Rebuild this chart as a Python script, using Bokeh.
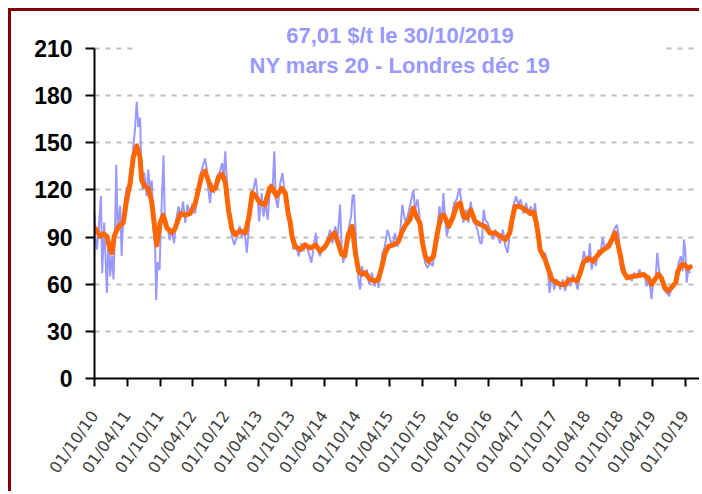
import pandas as pd
from bokeh.plotting import figure
from bokeh.models import FixedTicker, DatetimeTickFormatter, Label, Range1d
from bokeh.embed import file_html
from bokeh.resources import INLINE

# ---- data ----
title_lines = ["67,01 $/t le 30/10/2019", "NY mars 20 - Londres déc 19"]

tick_dates = ["2010-10-01", "2011-04-01", "2011-10-01", "2012-04-01", "2012-10-01",
              "2013-04-01", "2013-10-01", "2014-04-01", "2014-10-01", "2015-04-01",
              "2015-10-01", "2016-04-01", "2016-10-01", "2017-04-01", "2017-10-01",
              "2018-04-01", "2018-10-01", "2019-04-01", "2019-10-01"]
y_ticks = [0, 30, 60, 90, 120, 150, 180, 210]

blue_dates = [
    "2010-10-01", "2010-10-05", "2010-10-14", "2010-10-23", "2010-11-06", "2010-11-13",
    "2010-11-24", "2010-12-09", "2010-12-18", "2010-12-27", "2011-01-06", "2011-01-15",
    "2011-01-24", "2011-01-30", "2011-02-07", "2011-02-21", "2011-03-01", "2011-03-10",
    "2011-03-19", "2011-03-29", "2011-04-07", "2011-04-17", "2011-04-26", "2011-05-05",
    "2011-05-14", "2011-05-24", "2011-06-02", "2011-06-12", "2011-06-17", "2011-06-26",
    "2011-07-05", "2011-07-18", "2011-07-27", "2011-08-06", "2011-08-16", "2011-08-25",
    "2011-09-04", "2011-09-09", "2011-09-17", "2011-09-28", "2011-10-05", "2011-10-20",
    "2011-10-27", "2011-11-08", "2011-11-23", "2011-12-05", "2011-12-18", "2011-12-29",
    "2012-01-12", "2012-01-25", "2012-02-06", "2012-02-18", "2012-03-01", "2012-03-16",
    "2012-03-30", "2012-04-13", "2012-04-26", "2012-05-10", "2012-05-25", "2012-06-08",
    "2012-06-17", "2012-06-26", "2012-07-05", "2012-07-15", "2012-07-27", "2012-08-12",
    "2012-08-27", "2012-09-10", "2012-09-19", "2012-09-28", "2012-10-07", "2012-10-16",
    "2012-10-25", "2012-11-04", "2012-11-17", "2012-12-02", "2012-12-17", "2012-12-29",
    "2013-01-12", "2013-01-26", "2013-02-14", "2013-03-03", "2013-03-16", "2013-03-27",
    "2013-04-04", "2013-04-19", "2013-04-28", "2013-05-11", "2013-05-22", "2013-06-05",
    "2013-06-17", "2013-06-28", "2013-07-06", "2013-07-17", "2013-07-30", "2013-08-12",
    "2013-08-23", "2013-09-06", "2013-09-19", "2013-09-30", "2013-10-13", "2013-10-25",
    "2013-11-10", "2013-11-25", "2013-12-07", "2013-12-20", "2014-01-05", "2014-01-20",
    "2014-02-02", "2014-02-14", "2014-02-24", "2014-03-09", "2014-03-22", "2014-04-06",
    "2014-04-21", "2014-05-04", "2014-05-17", "2014-06-01", "2014-06-16", "2014-06-29",
    "2014-07-08", "2014-07-17", "2014-07-30", "2014-08-14", "2014-08-29", "2014-09-06",
    "2014-09-14", "2014-09-21", "2014-09-30", "2014-10-09", "2014-10-18", "2014-10-27",
    "2014-11-12", "2014-11-25", "2014-12-08", "2014-12-23", "2015-01-07", "2015-01-20",
    "2015-01-29", "2015-02-09", "2015-02-20", "2015-03-05", "2015-03-20", "2015-04-03",
    "2015-04-16", "2015-04-30", "2015-05-15", "2015-05-28", "2015-06-10", "2015-06-21",
    "2015-06-30", "2015-07-13", "2015-07-26", "2015-08-11", "2015-08-20", "2015-09-03",
    "2015-09-14", "2015-09-21", "2015-10-02", "2015-10-15", "2015-10-28", "2015-11-12",
    "2015-11-27", "2015-12-10", "2015-12-22", "2016-01-03", "2016-01-16", "2016-01-25",
    "2016-02-04", "2016-02-13", "2016-02-27", "2016-03-11", "2016-03-24", "2016-04-08",
    "2016-04-23", "2016-05-02", "2016-05-15", "2016-05-30", "2016-06-12", "2016-06-25",
    "2016-07-06", "2016-07-19", "2016-08-01", "2016-08-17", "2016-08-26", "2016-09-05",
    "2016-09-14", "2016-09-27", "2016-10-11", "2016-10-26", "2016-11-09", "2016-11-21",
    "2016-12-06", "2016-12-21", "2017-01-04", "2017-01-16", "2017-01-27", "2017-02-10",
    "2017-02-21", "2017-03-04", "2017-03-17", "2017-03-30", "2017-04-14", "2017-04-29",
    "2017-05-12", "2017-05-25", "2017-06-05", "2017-06-18", "2017-06-27", "2017-07-06",
    "2017-07-15", "2017-07-30", "2017-08-13", "2017-08-26", "2017-09-07", "2017-09-20",
    "2017-10-02", "2017-10-17", "2017-11-01", "2017-11-05", "2017-11-20", "2017-12-02",
    "2017-12-15", "2017-12-30", "2018-01-14", "2018-01-27", "2018-02-10", "2018-02-21",
    "2018-03-04", "2018-03-17", "2018-03-28", "2018-04-10", "2018-04-19", "2018-04-29",
    "2018-05-11", "2018-05-22", "2018-06-05", "2018-06-18", "2018-06-29", "2018-07-12",
    "2018-07-24", "2018-08-09", "2018-08-24", "2018-09-06", "2018-09-16", "2018-09-27",
    "2018-10-04", "2018-10-13", "2018-10-26", "2018-11-11", "2018-11-25", "2018-12-08",
    "2018-12-21", "2019-01-05", "2019-01-20", "2019-02-03", "2019-02-15", "2019-03-01",
    "2019-03-15", "2019-03-28", "2019-04-07", "2019-04-21", "2019-04-29", "2019-05-10",
    "2019-05-23", "2019-06-05", "2019-06-20", "2019-07-05", "2019-07-17", "2019-07-30",
    "2019-08-15", "2019-08-26", "2019-09-07", "2019-09-18", "2019-09-25", "2019-10-02",
    "2019-10-10", "2019-10-19", "2019-10-30"]
blue_values = [
    105, 90, 82, 93, 116, 67,
    99, 54.5, 90.5, 65, 78, 63,
    99, 136, 95, 110, 78, 103,
    113, 122, 113, 131, 127, 148,
    158, 176, 160, 166, 141, 120,
    131, 116, 133, 120, 126, 95,
    82, 50, 74, 69, 95, 142,
    103, 99, 88, 95, 86, 101,
    109.5, 103, 112.5, 99, 110.6, 105,
    111.6, 105, 118, 128.6, 135, 140,
    133, 120, 111.6, 124.3, 118, 128.6,
    131, 137, 128.6, 144.5, 124.3, 111.6,
    99, 90.5, 85, 90.5, 97, 89.5,
    94.7, 80, 107, 120, 127.5, 116,
    100, 118, 103, 111.6, 101, 124,
    118, 144.5, 114.5, 108.5, 124, 130.7,
    120, 111.6, 101, 90.5, 82, 86,
    77.8, 86, 81, 86, 80, 73.6,
    84, 92.6, 82, 77.8, 84, 82,
    88.4, 94.7, 86, 96.8, 90.5, 110.6,
    82, 73.6, 84, 94.7, 103, 116,
    117, 99, 77.8, 63, 56.6, 71.5,
    65, 69.3, 59.8, 67.3, 58.7, 65,
    57.7, 69.3, 80, 84, 94.7, 88.4,
    84, 92.6, 84, 90.5, 110.6, 103,
    99, 105, 111.6, 120, 107.4, 114,
    103, 94.7, 84, 73.6, 70.4, 73.6,
    71.5, 84, 94.7, 109.5, 99, 118,
    101, 90.5, 99, 103, 111.6, 114,
    121, 114, 99, 107.4, 99, 112.5,
    103, 99, 94.7, 86, 86, 107.4,
    101, 99, 94.7, 88.4, 94.7, 90.5,
    86, 94.7, 84, 80, 90.5, 105,
    111.6, 116, 110.6, 114, 105, 111.6,
    105, 109.5, 103, 111.6, 101, 92.6,
    82, 77.8, 80, 73.6, 54.5, 67.3,
    56.6, 63, 58.7, 56.6, 63, 55.6,
    65, 58.7, 66.2, 63, 56.6, 69.3,
    71.5, 81, 75.7, 73.6, 86, 69.3,
    77.8, 71.5, 82, 80, 89.5, 82,
    86, 84, 92.6, 95.8, 97.9, 90.5,
    73.6, 68.3, 71.5, 63, 66.2, 62,
    67.3, 64, 69.3, 65, 67.3, 58.7,
    65, 50.5, 61, 65, 80, 68.3,
    65, 56.6, 54.5, 52.4, 56.6, 58.7,
    63, 73.6, 77.8, 68.3, 88.4, 82,
    61, 69.3, 67.01]

orange_dates = [
    "2010-10-01", "2010-10-14", "2010-11-02", "2010-11-20", "2010-12-09", "2010-12-24",
    "2011-01-06", "2011-01-19", "2011-02-13", "2011-03-10", "2011-03-29", "2011-04-17",
    "2011-05-05", "2011-05-24", "2011-06-11", "2011-06-21", "2011-07-09", "2011-07-28",
    "2011-08-16", "2011-09-04", "2011-09-13", "2011-10-01", "2011-10-19", "2011-11-07",
    "2011-12-04", "2011-12-22", "2012-01-22", "2012-02-19", "2012-03-16", "2012-04-13",
    "2012-05-01", "2012-05-19", "2012-06-07", "2012-06-28", "2012-07-16", "2012-08-04",
    "2012-08-22", "2012-09-10", "2012-09-28", "2012-10-16", "2012-11-04", "2012-11-22",
    "2012-12-19", "2013-01-17", "2013-02-07", "2013-02-25", "2013-03-13", "2013-04-10",
    "2013-05-07", "2013-06-01", "2013-06-13", "2013-07-10", "2013-08-07", "2013-08-28",
    "2013-09-13", "2013-09-25", "2013-10-04", "2013-10-22", "2013-11-19", "2013-12-16",
    "2014-01-13", "2014-02-12", "2014-03-10", "2014-04-07", "2014-05-04", "2014-05-28",
    "2014-06-19", "2014-07-07", "2014-07-25", "2014-08-13", "2014-09-04", "2014-09-22",
    "2014-10-10", "2014-10-28", "2014-11-16", "2014-12-13", "2015-01-10", "2015-01-28",
    "2015-02-15", "2015-03-07", "2015-03-25", "2015-04-22", "2015-05-19", "2015-06-07",
    "2015-06-25", "2015-07-22", "2015-08-10", "2015-08-28", "2015-09-16", "2015-10-01",
    "2015-10-16", "2015-11-04", "2015-12-01", "2015-12-19", "2016-01-10", "2016-01-28",
    "2016-02-24", "2016-03-19", "2016-04-10", "2016-04-28", "2016-05-16", "2016-06-04",
    "2016-06-25", "2016-07-19", "2016-08-16", "2016-09-13", "2016-10-10", "2016-11-07",
    "2016-12-07", "2017-01-04", "2017-01-28", "2017-02-10", "2017-02-26", "2017-03-25",
    "2017-04-25", "2017-05-22", "2017-06-10", "2017-06-25", "2017-07-07", "2017-07-16",
    "2017-08-13", "2017-09-01", "2017-09-19", "2017-10-16", "2017-11-04", "2017-12-04",
    "2017-12-22", "2018-01-19", "2018-02-07", "2018-02-25", "2018-03-13", "2018-04-10",
    "2018-05-07", "2018-06-04", "2018-07-04", "2018-08-01", "2018-08-19", "2018-09-07",
    "2018-09-25", "2018-10-07", "2018-10-22", "2018-11-13", "2018-12-16", "2019-01-16",
    "2019-02-12", "2019-03-10", "2019-03-28", "2019-04-16", "2019-05-04", "2019-05-22",
    "2019-06-10", "2019-06-28", "2019-07-16", "2019-08-10", "2019-08-22", "2019-09-13",
    "2019-09-28", "2019-10-16", "2019-10-30"]
orange_values = [
    96, 94, 90.5, 92, 90.5, 83,
    80, 90.5, 97, 99, 114, 124,
    141, 148, 141, 126, 122, 121,
    112, 93, 85, 99, 104, 96,
    93, 95, 105, 104, 105, 111,
    120, 129, 132, 125, 120, 121,
    128, 130, 125, 107, 95, 91.5,
    94, 92.6, 103, 118, 116.6, 111.6,
    110.6, 121, 122, 116, 121, 118,
    105, 99, 90.5, 84, 82, 85,
    83, 85, 81, 84, 89.5, 92.6,
    86, 79, 78, 91.5, 96.8, 80,
    68.3, 66.3, 67.3, 63, 62, 63,
    70.5, 80, 84, 85, 87, 93,
    97, 101, 108.5, 103, 99, 86,
    77.8, 74.6, 77.8, 90.5, 103, 104,
    96.8, 103, 110.6, 111.6, 103, 102,
    107.4, 100, 98, 96.8, 92.6, 92.6,
    90.5, 88.4, 92.6, 101, 109.5, 109.5,
    107.4, 105, 106, 99, 90.5, 82,
    75.7, 69.3, 63, 61, 60, 59.8,
    62.6, 63, 62, 67.3, 73.6, 76.7,
    74.6, 78.8, 82, 84, 88.4, 92.6,
    84, 77.8, 68.3, 64, 65.1, 65.5,
    66.2, 64, 59.8, 63, 66.2, 64,
    57.7, 55.6, 57.7, 61, 68.3, 72.5,
    72.5, 70, 71]

# ---- figure ----
# frame extends above the 210 line so the title can sit over it
p = figure(width=691, height=483, x_axis_type="datetime",
           x_range=Range1d(pd.Timestamp("2010-10-01"), pd.Timestamp("2020-01-06")),
           y_range=Range1d(0, 229.7),
           output_backend="svg", toolbar_location=None,
           min_border_left=83, min_border_right=0, min_border_top=6, min_border_bottom=116)
p.styles = {"margin-left": "8px", "margin-top": "8px",
            "border-left": "3px solid #800000", "border-top": "3px solid #800000"}
p.background_fill_color = "white"
p.border_fill_color = "white"
p.outline_line_color = None

p.line(pd.to_datetime(blue_dates), blue_values, line_color="#9999ff", line_width=2)
p.line(pd.to_datetime(orange_dates), orange_values, line_color="#ff6600", line_width=5,
       line_join="round", line_cap="round")

# axes
p.xgrid.visible = False
p.ygrid.ticker = FixedTicker(ticks=y_ticks)
p.ygrid.grid_line_color = "#bfbfbf"
p.ygrid.grid_line_width = 2
p.ygrid.grid_line_dash = "5 6"

p.yaxis.ticker = FixedTicker(ticks=y_ticks)
p.yaxis.bounds = (0, 210)
p.yaxis.axis_line_width = 2
p.yaxis.axis_line_color = "black"
p.yaxis.major_tick_line_width = 2
p.yaxis.major_tick_out = 9
p.yaxis.major_tick_in = 0
p.yaxis.minor_tick_line_color = None
p.yaxis.major_label_text_font = "Liberation Sans"
p.yaxis.major_label_text_font_style = "bold"
p.yaxis.major_label_text_font_size = "23px"
p.yaxis.major_label_text_color = "black"
p.yaxis.major_label_standoff = 13

tick_ms = [pd.Timestamp(d).value / 1e6 for d in tick_dates]
p.xaxis.ticker = FixedTicker(ticks=tick_ms)
fmt = "%d/%m/%y"
p.xaxis.formatter = DatetimeTickFormatter(
    milliseconds=fmt, seconds=fmt, minsec=fmt, minutes=fmt, hourmin=fmt, hours=fmt,
    days=fmt, months=fmt, years=fmt, strip_leading_zeros=False, context=None)
p.xaxis.axis_line_width = 2
p.xaxis.axis_line_color = "black"
p.xaxis.major_tick_line_width = 2
p.xaxis.major_tick_out = 8
p.xaxis.major_tick_in = 0
p.xaxis.minor_tick_line_color = None
p.xaxis.major_label_orientation = 0.96
p.xaxis.major_label_text_font = "DejaVu Sans"
p.xaxis.major_label_text_font_size = "16px"
p.xaxis.major_label_text_color = "#404040"
p.xaxis.major_label_standoff = 26

# title (white box hides the middle of the top grid line)
mid = pd.Timestamp("2015-05-28")
p.add_layout(Label(x=mid, y=218.0, text=title_lines[0], text_align="center",
                   text_baseline="middle", text_font="Liberation Sans",
                   text_font_style="bold", text_font_size="22px", text_color="#9999ff",
                   background_fill_color="white", padding=(151, 151, 4, 4)))
p.add_layout(Label(x=mid, y=199.2, text=title_lines[1], text_align="center",
                   text_baseline="middle", text_font="Liberation Sans",
                   text_font_style="bold", text_font_size="22px", text_color="#9999ff"))

open("out.html", "w").write(file_html(p, INLINE))
